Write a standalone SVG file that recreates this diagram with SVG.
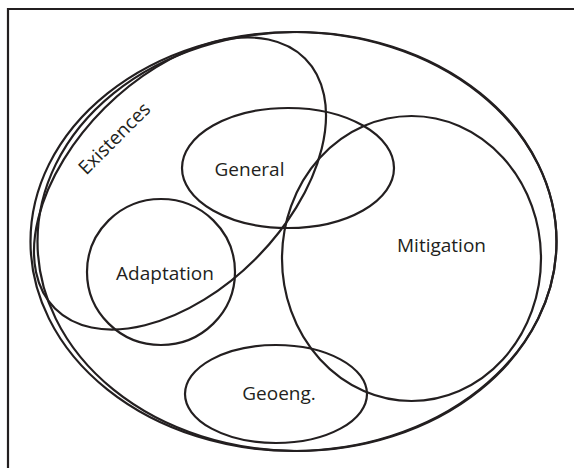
<svg xmlns="http://www.w3.org/2000/svg" width="574" height="468" viewBox="0 0 574 468">
<style>
.s{fill:none;stroke:#231f20;stroke-width:2.2}
.t{font-family:"Open Sans","Noto Sans",sans-serif;font-size:19px;fill:#231f20;text-anchor:middle}
</style>
<rect width="574" height="468" fill="#fff"/>
<path class="s" d="M8 468V9H574" stroke-width="2"/>
<g id="universe">
<ellipse class="s" cx="293.5" cy="241.5" rx="263" ry="209.5"/>
<ellipse class="s" cx="297" cy="241.5" rx="259.5" ry="209.5"/>
</g>
<g id="existences">
<ellipse class="s" cx="180" cy="183.5" rx="176.8" ry="106.7" transform="rotate(-45 180 183.5)"/>
<text class="t" x="119" y="143" transform="rotate(-45 119 143)">Existences</text>
</g>
<g id="general">
<ellipse class="s" cx="288" cy="168" rx="106" ry="60"/>
<text class="t" x="249.5" y="176">General</text>
</g>
<g id="mitigation">
<ellipse class="s" cx="411.5" cy="258.5" rx="129.5" ry="142.5"/>
<text class="t" x="441.5" y="252">Mitigation</text>
</g>
<g id="adaptation">
<ellipse class="s" cx="161" cy="272" rx="74" ry="73"/>
<text class="t" x="165" y="280">Adaptation</text>
</g>
<g id="geoeng">
<ellipse class="s" cx="276" cy="394" rx="91" ry="49"/>
<text class="t" x="279" y="400">Geoeng.</text>
</g>
</svg>
